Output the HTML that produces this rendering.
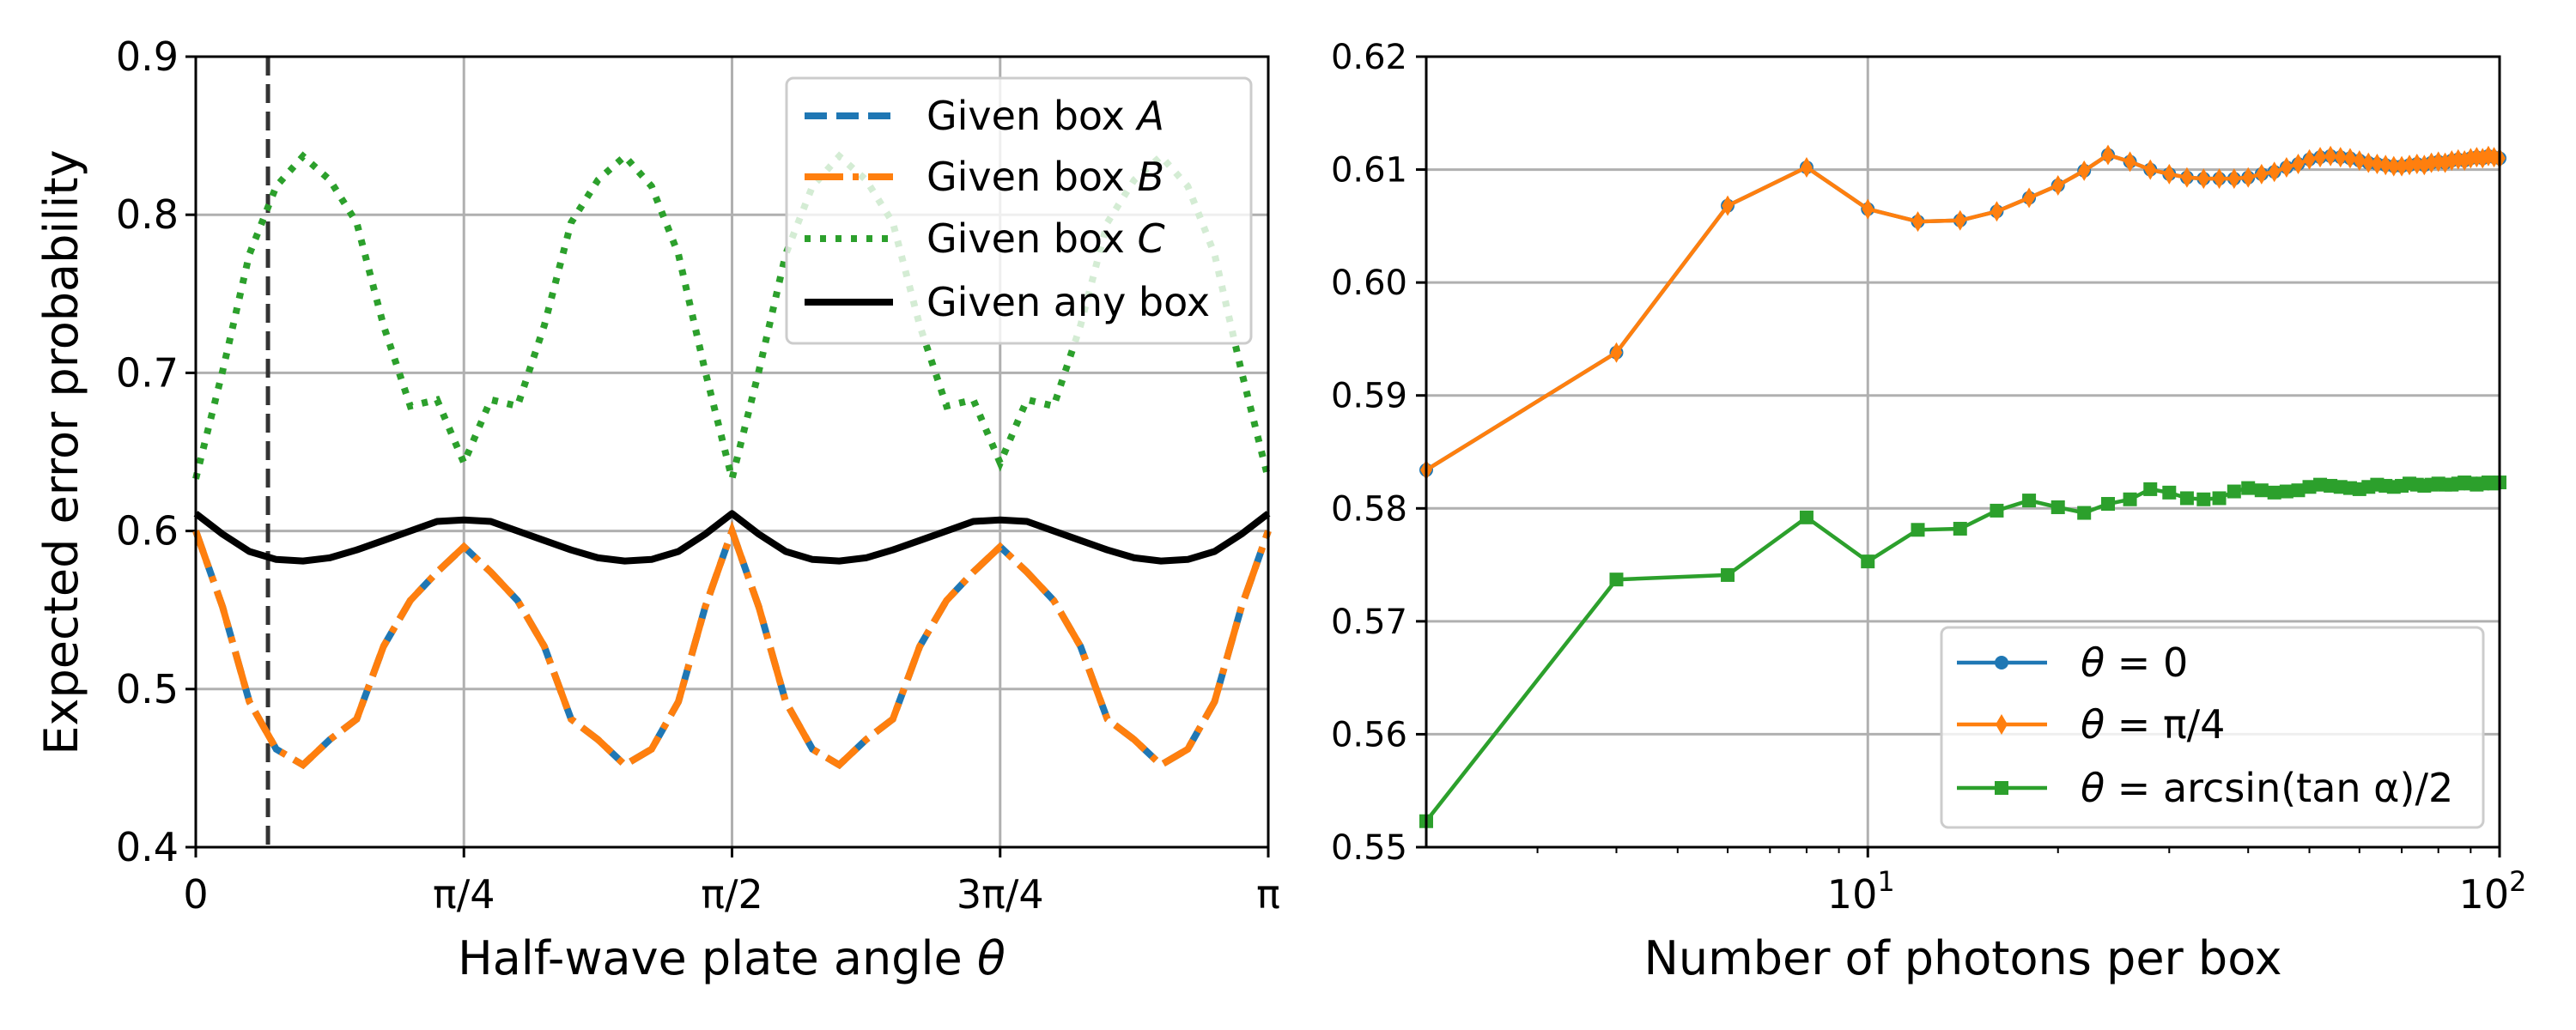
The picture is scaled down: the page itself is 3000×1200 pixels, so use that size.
<!DOCTYPE html>
<html><head><meta charset="utf-8"><style>
html,body{margin:0;padding:0;background:#fff}
svg{display:block;font-family:"DejaVu Sans","Liberation Sans",sans-serif}
</style></head><body>
<svg id="fig" width="3000" height="1200" viewBox="0 0 3000 1200" xmlns="http://www.w3.org/2000/svg">
<g id="left"></g>
<g id="right"></g>
</svg>
<script>
// ---- Left chart data ----
const thetaUnits = [0,0.025,0.05,0.075,0.1,0.125,0.15,0.175,0.2,0.225,0.25,0.275,0.3,0.325,0.35,0.375,0.4,0.425,0.45,0.475,0.5,0.525,0.55,0.575,0.6,0.625,0.65,0.675,0.7,0.725,0.75,0.775,0.8,0.825,0.85,0.875,0.9,0.925,0.95,0.975,1.0];
const boxA = [0.600,0.552,0.492,0.462,0.452,0.468,0.481,0.527,0.556,0.574,0.590,0.574,0.556,0.527,0.481,0.468,0.452,0.462,0.492,0.552,0.600,0.552,0.492,0.462,0.452,0.468,0.481,0.527,0.556,0.574,0.590,0.574,0.556,0.527,0.481,0.468,0.452,0.462,0.492,0.552,0.600];
const boxB = [0.600,0.552,0.492,0.462,0.452,0.468,0.481,0.527,0.556,0.574,0.590,0.574,0.556,0.527,0.481,0.468,0.452,0.462,0.492,0.552,0.600,0.552,0.492,0.462,0.452,0.468,0.481,0.527,0.556,0.574,0.590,0.574,0.556,0.527,0.481,0.468,0.452,0.462,0.492,0.552,0.600];
const boxC = [0.633,0.701,0.775,0.818,0.837,0.822,0.795,0.730,0.679,0.683,0.643,0.683,0.679,0.730,0.795,0.822,0.837,0.818,0.775,0.701,0.633,0.701,0.775,0.818,0.837,0.822,0.795,0.730,0.679,0.683,0.643,0.683,0.679,0.730,0.795,0.822,0.837,0.818,0.775,0.701,0.633];
const anyBox = [0.611,0.598,0.587,0.582,0.581,0.583,0.588,0.594,0.600,0.606,0.607,0.606,0.600,0.594,0.588,0.583,0.581,0.582,0.587,0.598,0.611,0.598,0.587,0.582,0.581,0.583,0.588,0.594,0.600,0.606,0.607,0.606,0.600,0.594,0.588,0.583,0.581,0.582,0.587,0.598,0.611];
const markerTheta = 0.0673;
const leftYTicks = [0.4,0.5,0.6,0.7,0.8,0.9];
const leftYTickLabels = ["0.4","0.5","0.6","0.7","0.8","0.9"];
const leftXTicks = [0,0.25,0.5,0.75,1];
const leftXTickLabels = ["0","π/4","π/2","3π/4","π"];

// ---- Right chart data ----
const photons = [2,4,6,8,10,12,14,16,18,20,22,24,26,28,30,32,34,36,38,40,42,44,46,48,50,52,54,56,58,60,62,64,66,68,70,72,74,76,78,80,82,84,86,88,90,92,94,96,98,100];
const theta0 = [0.5834,0.5938,0.6068,0.6102,0.6065,0.6054,0.6055,0.6063,0.6075,0.6086,0.6099,0.6113,0.6107,0.6100,0.6096,0.6093,0.6092,0.6092,0.6092,0.6093,0.6096,0.6098,0.6102,0.6105,0.6109,0.6111,0.6112,0.6111,0.6110,0.6108,0.6106,0.6105,0.6104,0.6103,0.6103,0.6104,0.6105,0.6104,0.6106,0.6107,0.6106,0.6108,0.6109,0.6108,0.6110,0.6111,0.6110,0.6112,0.6111,0.6110];
const thetaPi4 = [0.5834,0.5938,0.6068,0.6102,0.6065,0.6054,0.6055,0.6063,0.6075,0.6086,0.6099,0.6113,0.6107,0.6100,0.6096,0.6093,0.6092,0.6092,0.6092,0.6093,0.6096,0.6098,0.6102,0.6105,0.6109,0.6111,0.6112,0.6111,0.6110,0.6108,0.6106,0.6105,0.6104,0.6103,0.6103,0.6104,0.6105,0.6104,0.6106,0.6107,0.6106,0.6108,0.6109,0.6108,0.6110,0.6111,0.6110,0.6112,0.6111,0.6110];
const thetaArcsin = [0.5523,0.5737,0.5741,0.5792,0.5753,0.5781,0.5782,0.5798,0.5807,0.5801,0.5796,0.5804,0.5808,0.5817,0.5814,0.5809,0.5808,0.5809,0.5815,0.5818,0.5816,0.5814,0.5815,0.5816,0.5819,0.5821,0.5820,0.5819,0.5818,0.5817,0.5819,0.5821,0.5820,0.5819,0.5820,0.5822,0.5821,0.5820,0.5821,0.5822,0.5821,0.5821,0.5822,0.5823,0.5822,0.5821,0.5822,0.5823,0.5822,0.5823];
const rightYTicks = [0.55,0.56,0.57,0.58,0.59,0.60,0.61,0.62];
const rightYTickLabels = ["0.55","0.56","0.57","0.58","0.59","0.60","0.61","0.62"];
const rightMinorTicks = [3,4,5,6,7,8,9,20,30,40,50,60,70,80,90];

const NS = "http://www.w3.org/2000/svg";
function mk(parent, tag, attrs, text){
  const e = document.createElementNS(NS, tag);
  for (const k in attrs) e.setAttribute(k, attrs[k]);
  if (text !== undefined) e.textContent = text;
  parent.appendChild(e);
  return e;
}
// ---------- LEFT ----------
const L = document.getElementById('left');
const LX0=228, LX1=1477, LY0=66, LY1=987;
const lx = t => LX0 + t*(LX1-LX0);
const ly = v => LY1 - (v-0.4)/0.5*(LY1-LY0);

leftYTicks.forEach((v,i)=>{
  let g = mk(L,'line',{x1:LX0,x2:LX1,y1:ly(v),y2:ly(v),stroke:'#b0b0b0','stroke-width':3});
  
  
  let t = mk(L,'line',{x1:LX0-12,x2:LX0,y1:ly(v),y2:ly(v),stroke:'#000','stroke-width':3});
  
  
  let lb = mk(L,'text',{x:LX0-20,y:ly(v)+16,'text-anchor':'end','font-size':46},leftYTickLabels[i]);
  
  
});
leftXTicks.forEach((t0,i)=>{
  let g = mk(L,'line',{x1:lx(t0),x2:lx(t0),y1:LY0,y2:LY1,stroke:'#b0b0b0','stroke-width':3});
  
  
  let t = mk(L,'line',{x1:lx(t0),x2:lx(t0),y1:LY1,y2:LY1+12,stroke:'#000','stroke-width':3});
  
  
  let lb = mk(L,'text',{x:lx(t0),y:1058,'text-anchor':'middle','font-size':46},leftXTickLabels[i]);
  
  
});
function pathFrom(xs, ys, fx, fy){
  return xs.map((x,i)=>(i?'L':'M')+fx(x).toFixed(1)+' '+fy(ys[i]).toFixed(1)).join(' ');
}
let vline = mk(L,'line',{x1:lx(markerTheta),x2:lx(markerTheta),y1:LY0,y2:LY1,stroke:'#333','stroke-width':5,'stroke-dasharray':'22 10'});


let pA = mk(L,'path',{d:pathFrom(thetaUnits,boxA,lx,ly),fill:'none',stroke:'#1f77b4','stroke-width':8,'stroke-dasharray':'26 11'});


let pB = mk(L,'path',{d:pathFrom(thetaUnits,boxB,lx,ly),fill:'none',stroke:'#ff7f0e','stroke-width':8,'stroke-dasharray':'45 11 7 11'});


let pC = mk(L,'path',{d:pathFrom(thetaUnits,boxC,lx,ly),fill:'none',stroke:'#2ca02c','stroke-width':8,'stroke-dasharray':'7 11'});


let pK = mk(L,'path',{d:pathFrom(thetaUnits,anyBox,lx,ly),fill:'none',stroke:'#000','stroke-width':8,'stroke-linejoin':'round'});


let fL = mk(L,'rect',{x:LX0,y:LY0,width:LX1-LX0,height:LY1-LY0,fill:'none',stroke:'#000','stroke-width':3});


// legend
let lgL = mk(L,'g',{});


mk(lgL,'rect',{x:916,y:91,width:541,height:309,rx:8,fill:'#fff','fill-opacity':0.8,stroke:'#cccccc','stroke-width':3});
const legL = [
  {c:'#1f77b4',d:'26 11',t:'Given box ',i:'A',y:135},
  {c:'#ff7f0e',d:'45 11 7 11',t:'Given box ',i:'B',y:206},
  {c:'#2ca02c',d:'7 11',t:'Given box ',i:'C',y:278},
  {c:'#000',d:'',t:'Given any box',i:'',y:352}
];
legL.forEach(e=>{
  let row = mk(lgL,'g',{});
  
  
  const a={x1:937,x2:1040,y1:e.y,y2:e.y,stroke:e.c,'stroke-width':8};
  if(e.d) a['stroke-dasharray']=e.d;
  mk(row,'line',a);
  const tx = mk(row,'text',{x:1079,y:e.y+16,'font-size':46},e.t);
  if(e.i){ mk(tx,'tspan',{'font-style':'italic'},e.i); }
});
let xlL = mk(L,'text',{x:852,y:1135,'text-anchor':'middle','font-size':54},'Half-wave plate angle ');
mk(xlL,'tspan',{'font-style':'italic'},'θ');


let ylL = mk(L,'text',{x:0,y:0,'text-anchor':'middle','font-size':54,transform:'translate(90,527) rotate(-90)'},'Expected error probability');



// ---------- RIGHT ----------
const R = document.getElementById('right');
const RX0=1661, RX1=2911, RY0=66, RY1=987;
const nMin=2, nMax=100;
const rx = n => RX0 + (Math.log10(n)-Math.log10(nMin))/(Math.log10(nMax)-Math.log10(nMin))*(RX1-RX0);
const ry = v => RY1 - (v-0.55)/0.07*(RY1-RY0);

rightYTicks.forEach((v,i)=>{
  let g = mk(R,'line',{x1:RX0,x2:RX1,y1:ry(v),y2:ry(v),stroke:'#b0b0b0','stroke-width':3});
  
  
  let t = mk(R,'line',{x1:RX0-12,x2:RX0,y1:ry(v),y2:ry(v),stroke:'#000','stroke-width':3});
  
  
  let lb = mk(R,'text',{x:RX0-22,y:ry(v)+14,'text-anchor':'end','font-size':40},rightYTickLabels[i]);
  
  
});
[10,100].forEach((n,i)=>{
  let g = mk(R,'line',{x1:rx(n),x2:rx(n),y1:RY0,y2:RY1,stroke:'#b0b0b0','stroke-width':3});
  
  
  let t = mk(R,'line',{x1:rx(n),x2:rx(n),y1:RY1,y2:RY1+12,stroke:'#000','stroke-width':3});
  
  
  let lb = mk(R,'text',{x:rx(n)-8,y:1058,'text-anchor':'middle','font-size':46},'10');
  mk(lb,'tspan',{dy:-20,'font-size':32},i===0?'1':'2');
  
  
});
rightMinorTicks.forEach(n=>{
  let t = mk(R,'line',{x1:rx(n),x2:rx(n),y1:RY1,y2:RY1+7,stroke:'#000','stroke-width':2});
  
  
});
function series(vals, color, name, marker){
  const g = mk(R,'g',{});
  
  
  mk(g,'path',{d:pathFrom(photons,vals,rx,ry),fill:'none',stroke:color,'stroke-width':4.5});
  photons.forEach((n,i)=>{
    const x=rx(n), y=ry(vals[i]);
    let m;
    if(marker==='o') m=mk(g,'circle',{cx:x,cy:y,r:8,fill:color});
    else if(marker==='d') m=mk(g,'path',{d:`M${x} ${y-12}L${x+7} ${y}L${x} ${y+12}L${x-7} ${y}Z`,fill:color});
    else m=mk(g,'rect',{x:x-8,y:y-8,width:16,height:16,fill:color});
    
    
  });
}
series(theta0,'#1f77b4','series-theta-0','o');
series(thetaPi4,'#ff7f0e','series-theta-pi-4','d');
series(thetaArcsin,'#2ca02c','series-theta-arcsin','s');
let fR = mk(R,'rect',{x:RX0,y:RY0,width:RX1-RX0,height:RY1-RY0,fill:'none',stroke:'#000','stroke-width':3});


let lgR = mk(R,'g',{});


mk(lgR,'rect',{x:2261,y:731,width:631,height:233,rx:8,fill:'#fff','fill-opacity':0.8,stroke:'#cccccc','stroke-width':3});
const legR=[
  {c:'#1f77b4',m:'o',y:772,t:' = 0'},
  {c:'#ff7f0e',m:'d',y:844,t:' = π/4'},
  {c:'#2ca02c',m:'s',y:918,t:' = arcsin(tan α)/2'}
];
legR.forEach(e=>{
  const row = mk(lgR,'g',{});
  
  
  mk(row,'line',{x1:2279,x2:2384,y1:e.y,y2:e.y,stroke:e.c,'stroke-width':4.5});
  const x=2331,y=e.y;
  if(e.m==='o') mk(row,'circle',{cx:x,cy:y,r:8,fill:e.c});
  else if(e.m==='d') mk(row,'path',{d:`M${x} ${y-12}L${x+7} ${y}L${x} ${y+12}L${x-7} ${y}Z`,fill:e.c});
  else mk(row,'rect',{x:x-8,y:y-8,width:16,height:16,fill:e.c});
  const tx = mk(row,'text',{x:2423,y:e.y+16,'font-size':46});
  mk(tx,'tspan',{'font-style':'italic'},'θ');
  mk(tx,'tspan',{},e.t);
});
let xlR = mk(R,'text',{x:2286,y:1135,'text-anchor':'middle','font-size':54},'Number of photons per box');


</script>
</body></html>
